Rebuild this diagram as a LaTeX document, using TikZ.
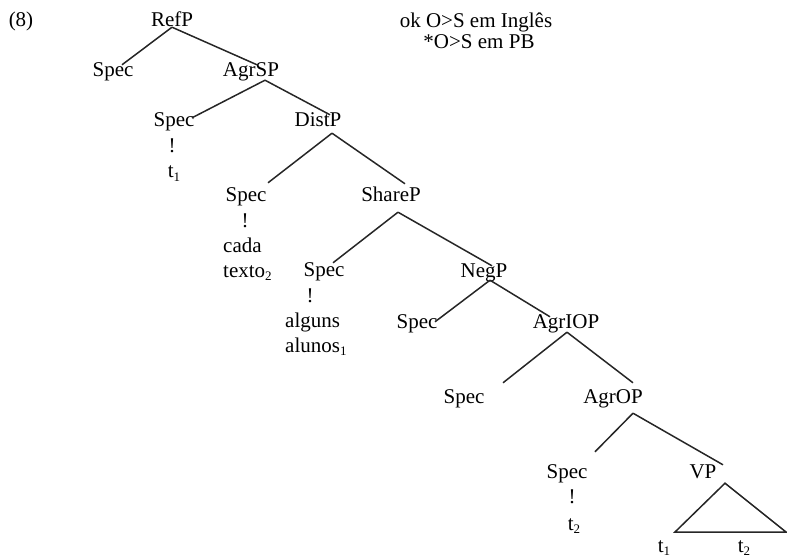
\documentclass[tikz,border=0pt]{standalone}
\usepackage{fontspec}
\setmainfont{Liberation Serif}
\usetikzlibrary{calc}
\newcommand{\sbs}[1]{\raisebox{-0.35ex}{\fontsize{13}{13}\selectfont #1}}
\begin{document}
\begin{tikzpicture}[x=1pt,y=-1pt,
  lbl/.style={anchor=base,inner sep=0pt,text height=14pt,text depth=0pt,font=\fontsize{21}{24}\selectfont,text=black},
  lblw/.style={lbl,anchor=base west},
  br/.style={line width=1.5pt,draw=black!85}]
\useasboundingbox (0,0) rectangle (787,559);
% header
\node[lbl] (ex) at (21,27) {(8)};
\node[lbl] (ok) at (476,28) {ok O>S em Inglês};
\node[lbl] (pb) at (479,49) {*O>S em PB};
% nodes
\node[lbl] (refp) at (172,27) {RefP};
\node[lbl] (s1) at (113,77) {Spec};
\node[lbl] (agrsp) at (251,77) {AgrSP};
\node[lbl] (s2) at (174,127) {Spec};
\node[lbl] (b2) at (172,153) {!};
\node[lbl] (t1a) at (174,178) {t\sbs{1}};
\node[lbl] (distp) at (318,127) {DistP};
\node[lbl] (s3) at (246,201) {Spec};
\node[lbl] (b3) at (245,227) {!};
\node[lblw] (cada) at (223,252) {cada};
\node[lblw] (texto) at (223,277) {texto\sbs{2}};
\node[lbl] (sharep) at (391,201) {ShareP};
\node[lbl] (s4) at (324,276) {Spec};
\node[lbl] (b4) at (310,302) {!};
\node[lblw] (alguns) at (285,327) {alguns};
\node[lblw] (alunos) at (285,352) {alunos\sbs{1}};
\node[lbl] (negp) at (484,277) {NegP};
\node[lbl] (s5) at (417,328) {Spec};
\node[lbl] (agriop) at (566,328) {AgrIOP};
\node[lbl] (s6) at (464,403) {Spec};
\node[lbl] (agrop) at (613,403) {AgrOP};
\node[lbl] (s7) at (567,478) {Spec};
\node[lbl] (b7) at (572,503) {!};
\node[lbl] (t2a) at (574,530) {t\sbs{2}};
\node[lbl] (vp) at (703,478) {VP};
\node[lbl] (t1b) at (664,552) {t\sbs{1}};
\node[lbl] (t2b) at (744,552) {t\sbs{2}};
% branches
\draw[br] (refp.south) -- ($(s1.north)+(9,2)$);
\draw[br] (refp.south) -- ($(agrsp.north)+(6,2)$);
\draw[br] ($(agrsp.south)+(14,3)$) -- ($(s2.north)+(18,5)$);
\draw[br] ($(agrsp.south)+(14,3)$) -- ($(distp.north)+(12,2)$);
\draw[br] ($(distp.south)+(14,6)$) -- ($(s3.north)+(22,-4)$);
\draw[br] ($(distp.south)+(14,6)$) -- ($(sharep.north)+(14,-3)$);
\draw[br] ($(sharep.south)+(7,11)$) -- ($(s4.north)+(9,1)$);
\draw[br] ($(sharep.south)+(7,11)$) -- ($(negp.north)+(8,3)$);
\draw[br] ($(negp.south)+(6,3)$) -- ($(s5.north)+(18,8)$);
\draw[br] ($(negp.south)+(6,3)$) -- ($(agriop.north)+(-16,3)$);
\draw[br] ($(agriop.south)+(1,4)$) -- ($(s6.north)+(39,-6)$);
\draw[br] ($(agriop.south)+(1,4)$) -- ($(agrop.north)+(20,-6)$);
\draw[br] ($(agrop.south)+(20,10)$) -- ($(s7.north)+(28,-12)$);
\draw[br] ($(agrop.south)+(20,10)$) -- ($(vp.north)+(20,1)$);
% triangle
\coordinate (tl) at (675,532);
\coordinate (tr) at (786,532);
\draw[br,line join=miter] ($(vp.south)+(22,5)$) -- (tl) -- (tr) -- cycle;
\end{tikzpicture}
\end{document}
